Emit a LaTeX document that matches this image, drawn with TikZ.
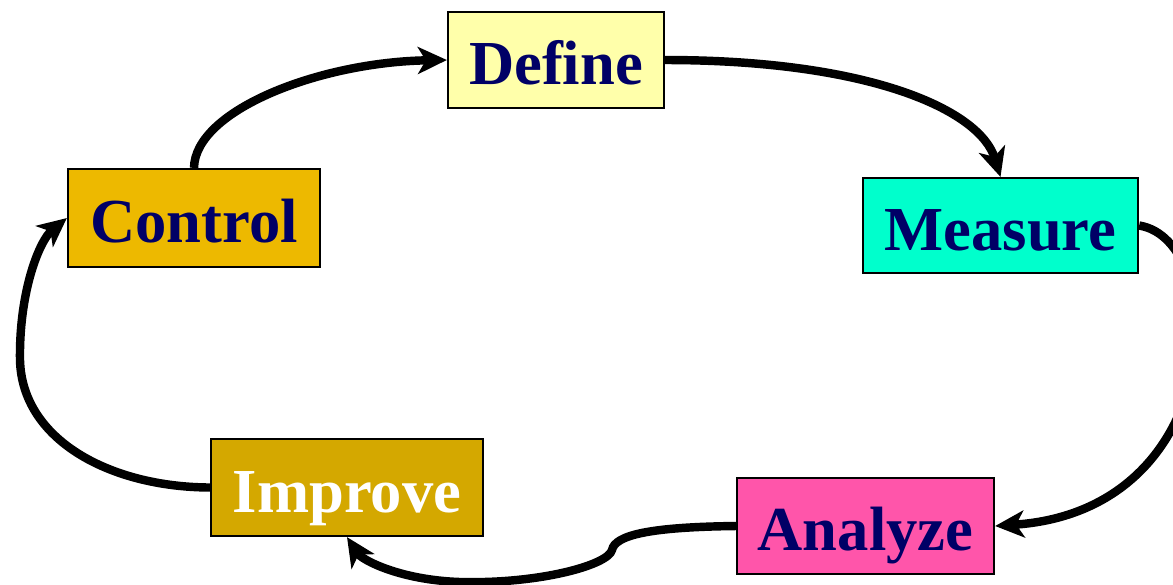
\documentclass[tikz,border=0pt]{standalone}
\usepackage{fontspec}
\setmainfont{Liberation Serif}
\usepackage{xcolor}
\usetikzlibrary{arrows.meta}

\definecolor{navytext}{HTML}{000066}
\definecolor{definefill}{HTML}{FFFFAA}
\definecolor{measurefill}{HTML}{00FFCC}
\definecolor{analyzefill}{HTML}{FF55AA}
\definecolor{improvefill}{HTML}{D4A800}
\definecolor{controlfill}{HTML}{EDB900}

\begin{document}
\begin{tikzpicture}[x=0.01cm, y=-0.01cm,
  phase/.style={draw, line width=0.6pt, inner sep=0pt, text=navytext,
    font=\fontsize{17.8}{20}\selectfont\bfseries,
    text height=0.59cm, text depth=0.1cm},
  flow/.style={line width=2.4pt,
    -{Stealth[length=0.29cm, width=0.27cm, inset=0.08cm]}}]
\useasboundingbox (0,0) rectangle (1173,584);

% Phase boxes
\node[phase, fill=definefill, minimum width=2.16cm, minimum height=0.96cm] (define) at (556,60) {Define};
\node[phase, fill=measurefill, minimum width=2.75cm, minimum height=0.95cm] (measure) at (1000.5,225.5) {Measure};
\node[phase, fill=analyzefill, minimum width=2.57cm, minimum height=0.96cm] (analyze) at (865.5,526) {Analyze};
\node[phase, fill=improvefill, text=white, minimum width=2.72cm, minimum height=0.97cm] (improve) at (347,487.5) {Improve};
\node[phase, fill=controlfill, minimum width=2.52cm, minimum height=0.98cm] (control) at (194,218) {Control};

% Cycle arrows
\draw[flow] (define.east) .. controls (870,60) and (980,110) .. (measure.north);
\draw[flow] (measure.east) .. controls (1230,240) and (1230,510) .. (analyze.east);
\draw[flow] (analyze.west) .. controls (650,527) and (615,535) .. (612,550)
  .. controls (608,565) and (540,584) .. (460,582)
  .. controls (400,580) and (362,560) .. (improve.south);
\draw[flow] (improve.west) .. controls (110,487) and (22,440) .. (20,360)
  .. controls (19,290) and (40,240) .. (control.west);
\draw[flow] (control.north) .. controls (195,110) and (320,62) .. (define.west);
\end{tikzpicture}
\end{document}
